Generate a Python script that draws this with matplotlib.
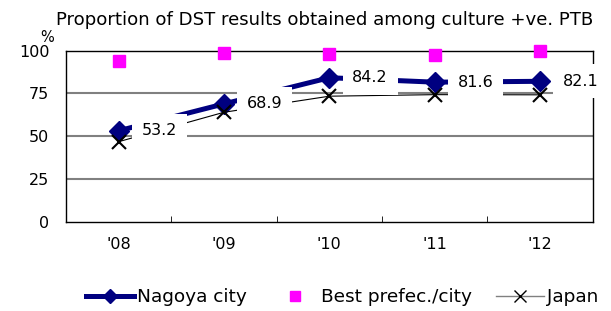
import matplotlib.pyplot as plt
from matplotlib.lines import Line2D

years = ["'08", "'09", "'10", "'11", "'12"]
nagoya = [53.2, 68.9, 84.2, 81.6, 82.1]
best = [94.0, 98.4, 97.8, 97.3, 99.6]
japan = [46.8, 64.0, 73.4, 74.3, 74.2]

fig = plt.figure(figsize=(6.11, 3.11), dpi=100)
ax = fig.add_axes([0.108, 0.287, 0.862, 0.55])

x = list(range(len(years)))
ax.set_xlim(-0.5, len(years) - 0.5)
ax.set_ylim(0, 100)

for v in [25, 50, 75]:
    ax.axhline(v, color='#808080', lw=1.5, zorder=1)

ax.plot(x, nagoya, color='#000080', lw=3.6, marker='D', ms=10, zorder=3)
ax.plot(x, best, ls='none', marker='s', color='#ff00ff', ms=8, zorder=3, clip_on=False)
ax.plot(x, japan, color='black', lw=0.8, marker='x', ms=9.5, mew=1.5, zorder=4)

# data labels with white boxes (they hide the lines behind, like the original)
for i, v in enumerate(nagoya):
    ax.annotate(f'{v:.1f}', (i, v), xytext=(23, 0), textcoords='offset pixels',
                va='center', ha='left', fontsize=11.5, zorder=5, annotation_clip=False,
                bbox=dict(boxstyle='square,pad=0.6', fc='white', ec='none'))

ax.set_yticks([0, 25, 50, 75, 100])
ax.set_yticklabels(['0', '25', '50', '75', '100'], fontsize=11.5)
ax.tick_params(axis='y', length=0, pad=12)

ax.set_xticks(x)
ax.set_xticklabels(years, fontsize=11.5)
ax.set_xticks([i + 0.5 for i in range(len(years) - 1)], minor=True)
ax.tick_params(axis='x', which='major', length=0, pad=11)
ax.tick_params(axis='x', which='minor', direction='in', length=4, color='black')

for s in ax.spines.values():
    s.set_color('black')
    s.set_linewidth(1.0)

fig.text(0.092, 0.935, 'Proportion of DST results obtained among culture +ve. PTB', fontsize=13.1, ha='left', va='center')
fig.text(0.066, 0.88, '%', fontsize=10.5, ha='left', va='center')

handles = [
    Line2D([], [], color='#000080', lw=3.6, marker='D', ms=7),
    Line2D([], [], ls='none', marker='s', color='#ff00ff', ms=7),
    Line2D([], [], color='#808080', lw=1, marker='x', mec='black', ms=8),
]
fig.legend(handles, ['Nagoya city', 'Best prefec./city', 'Japan'], loc='center',
           bbox_to_anchor=(0.56, 0.045), ncol=3, frameon=False, fontsize=13.3,
           handlelength=2.6, handletextpad=0.15, columnspacing=1.3)

fig.savefig('out.png', dpi=100)
